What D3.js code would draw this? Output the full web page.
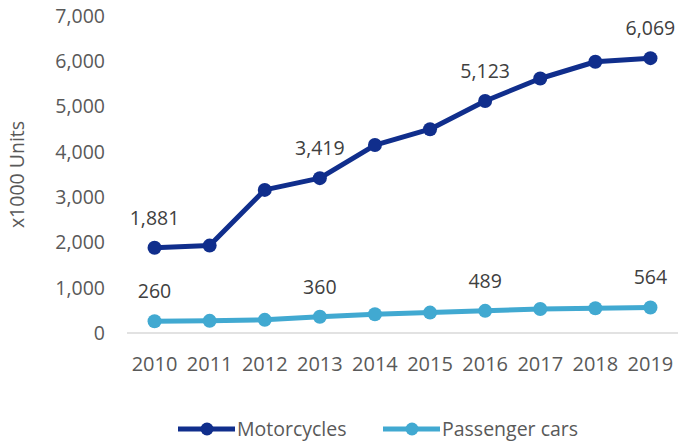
<!DOCTYPE html>
<html>
<head>
<meta charset="utf-8">
<script src="https://cdn.jsdelivr.net/npm/d3@7"></script>
<style>
  body { margin: 0; background: #fff; }
  text { font-family: "Open Sans", "Noto Sans", sans-serif; }
</style>
</head>
<body>
<div id="chart"></div>
<script>
const years = ['2010', '2011', '2012', '2013', '2014', '2015', '2016', '2017', '2018', '2019'];
const motorcycles = [1881, 1930, 3160, 3419, 4150, 4500, 5123, 5620, 5990, 6069];
const passengerCars = [260, 268, 290, 360, 415, 450, 489, 530, 545, 564];
const labelledYears = ['2010', '2013', '2016', '2019'];
const yTicks = [0, 1000, 2000, 3000, 4000, 5000, 6000, 7000];

const width = 678;
const height = 443;
const margin = { top: 16, right: 0, bottom: 110, left: 127 };

const svg = d3.select('#chart')
    .append('svg')
    .attr('width', width)
    .attr('height', height);

const x = d3.scaleBand()
    .domain(years)
    .range([margin.left, width - margin.right]);

const y = d3.scaleLinear()
    .domain([0, 7000])
    .range([height - margin.bottom, margin.top]);

const fmt = d3.format(',');

// baseline
svg.append('line')
    .attr('x1', margin.left)
    .attr('x2', width - margin.right)
    .attr('y1', y(0))
    .attr('y2', y(0))
    .attr('stroke', '#d9d9d9')
    .attr('stroke-width', 1.5);

// y tick labels
svg.append('g')
    .selectAll('text')
    .data(yTicks)
    .enter().append('text')
    .attr('x', 105)
    .attr('y', d => y(d))
    .attr('dy', '0.35em')
    .attr('text-anchor', 'end')
    .attr('fill', '#595959')
    .style('font-size', '19.5px')
    .text(d => fmt(d));

// x tick labels
svg.append('g')
    .selectAll('text')
    .data(years)
    .enter().append('text')
    .attr('x', d => x(d) + x.bandwidth() / 2)
    .attr('y', y(0) + 31)
    .attr('dy', '0.35em')
    .attr('text-anchor', 'middle')
    .attr('fill', '#595959')
    .style('font-size', '20px')
    .text(d => d);

// y axis title
svg.append('text')
    .attr('transform', `translate(24,${(y(0) + y(7000)) / 2}) rotate(-90)`)
    .attr('text-anchor', 'middle')
    .attr('fill', '#595959')
    .style('font-size', '19.5px')
    .text('x1000 Units');

const series = [
    { name: 'Motorcycles', values: motorcycles, color: '#102E8C' },
    { name: 'Passenger cars', values: passengerCars, color: '#41A9D1' }
];

const cx = (d, i) => x(years[i]) + x.bandwidth() / 2;

series.forEach(s => {
    svg.append('path')
        .datum(s.values)
        .attr('fill', 'none')
        .attr('stroke', s.color)
        .attr('stroke-width', 5)
        .attr('stroke-linejoin', 'round')
        .attr('d', d3.line()
            .x(cx)
            .y(d => y(d))
        );

    svg.append('g')
        .selectAll('circle')
        .data(s.values)
        .enter().append('circle')
        .attr('cx', cx)
        .attr('cy', d => y(d))
        .attr('r', 7)
        .attr('fill', s.color);

    svg.append('g')
        .selectAll('text')
        .data(s.values.map((v, i) => ({ v, i })).filter(d => labelledYears.includes(years[d.i])))
        .enter().append('text')
        .attr('x', d => cx(d.v, d.i))
        .attr('y', d => y(d.v) - 23)
        .attr('text-anchor', 'middle')
        .attr('fill', '#404040')
        .style('font-size', '19.5px')
        .text(d => fmt(d.v));
});

// legend
const legend = svg.append('g');
const legendItems = [
    { s: series[0], x: 178 },
    { s: series[1], x: 383 }
];
legendItems.forEach(l => {
    const g = legend.append('g').attr('transform', `translate(${l.x},429)`);
    g.append('line')
        .attr('x1', 0).attr('x2', 57)
        .attr('stroke', l.s.color)
        .attr('stroke-width', 5);
    g.append('circle')
        .attr('cx', 29)
        .attr('r', 6.5)
        .attr('fill', l.s.color);
    g.append('text')
        .attr('x', 59)
        .attr('dy', '0.35em')
        .attr('fill', '#595959')
        .style('font-size', '19.5px')
        .text(l.s.name);
});
</script>
</body>
</html>
